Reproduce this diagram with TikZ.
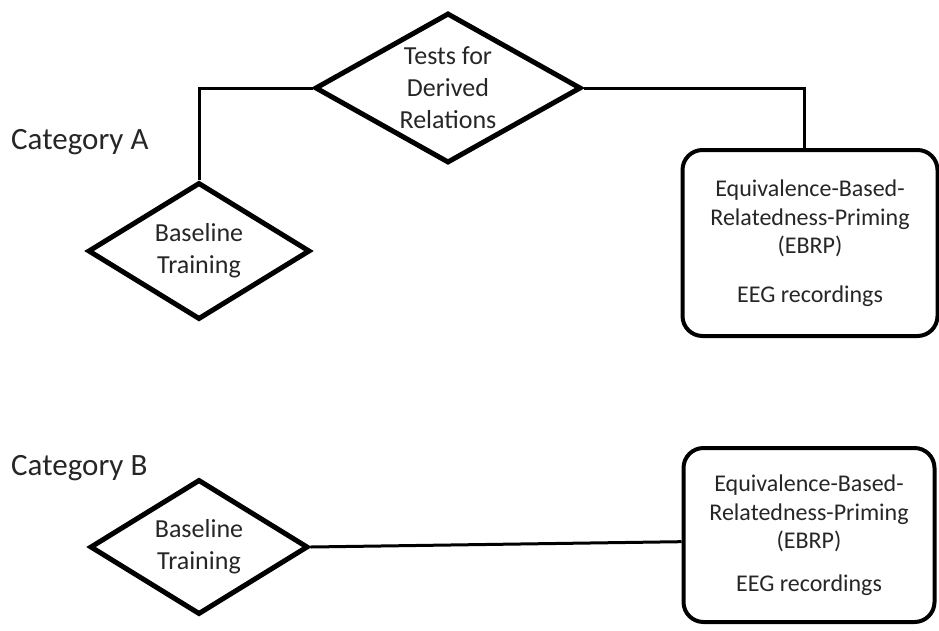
\documentclass[tikz,border=0pt]{standalone}
\usepackage{fontspec}
\setmainfont{Carlito}
\usetikzlibrary{positioning,shapes.geometric}

\begin{document}
\begin{tikzpicture}[
  x=1pt, y=-1pt,
  dec/.style={draw, diamond, line width=5pt, inner sep=0pt, align=center,
              text=black!85, font=\fontsize{26}{32}\selectfont},
  outbox/.style={draw, line width=4pt, rounded corners=20pt, align=center,
                 text=black!85, font=\fontsize{24}{28.5}\selectfont},
  cat/.style={anchor=west, inner sep=0pt, text=black!85,
              font=\fontsize{31}{37}\selectfont},
  lnk/.style={line width=3pt}
]
\useasboundingbox (0,0) rectangle (939,630);

% category A
\node[cat] (catA) at (11,142) {Category A};
\node[dec, minimum width=222pt, minimum height=137pt, shape aspect=1.6] (baseA) at (199,251) {Baseline\\Training};
\node[dec, minimum width=266pt, minimum height=150pt, shape aspect=1.74] (tests) at (448,88) {Tests for\\Derived\\Relations};
\node[outbox, minimum width=255pt, minimum height=186pt, right=97pt of tests, yshift=-155pt] (ebrpA)
  {Equivalence-Based-\\Relatedness-Priming\\(EBRP)\\[20pt]EEG recordings};

\draw[lnk] (baseA.north) |- (tests.west);
\draw[lnk] (tests.east) -| ([xshift=-6pt]ebrpA.north);

% category B
\node[cat] (catB) at (11,468) {Category B};
\node[dec, minimum width=218pt, minimum height=135pt, shape aspect=1.6, below=155pt of baseA] (baseB) {Baseline\\Training};
\node[outbox, minimum width=251pt, minimum height=174pt, right=371pt of baseB, yshift=12pt] (ebrpB)
  {Equivalence-Based-\\Relatedness-Priming\\(EBRP)\\[14pt]EEG recordings};

\draw[lnk] (baseB.east) -- (ebrpB.183);
\end{tikzpicture}
\end{document}
